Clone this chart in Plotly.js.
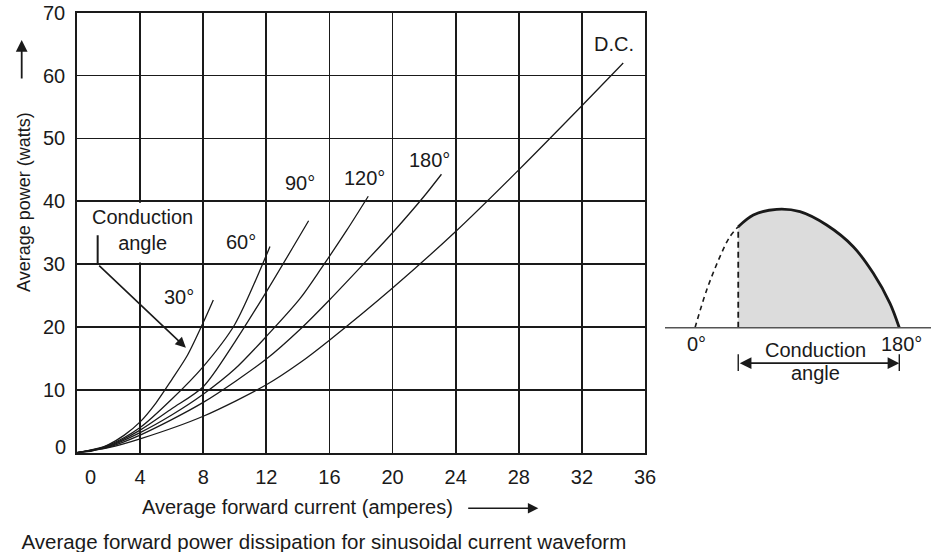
<!DOCTYPE html>
<html>
<head>
<meta charset="utf-8">
<script src="https://cdn.plot.ly/plotly-3.0.1.min.js"></script>
<style>html,body{margin:0;padding:0;background:#fff;}#chart{width:931px;height:552px;}</style>
</head>
<body>
<div id="chart"></div>
<script>
// ---- main chart data (average forward current A, average power W) ----
const curveLabels = ["30°", "60°", "90°", "120°", "180°", "D.C."];
const x30  = [0, 1, 2, 3, 4, 5, 6, 7, 8, 8.64];
const y30  = [0, 0.3, 1.3, 2.8, 4.9, 7.9, 11.6, 15.5, 20.7, 24.3];
const x60  = [0, 2, 4, 6, 8, 10, 12, 12.23];
const y60  = [0, 1.2, 4.0, 8.5, 13.7, 20.4, 31.4, 32.8];
const x90  = [0, 2, 4, 6, 8, 10, 12, 14.68];
const y90  = [0, 1.1, 3.6, 7.0, 10.5, 17.6, 25.6, 36.9];
const x120 = [0, 2, 4, 6, 8, 10, 12, 14.13, 15.5, 17.1, 18.46];
const y120 = [0, 1.0, 3.2, 6.0, 9.3, 13.3, 18.5, 24.5, 29.4, 35.4, 40.8];
const x180 = [0, 2, 4, 8, 12, 14.13, 16, 18, 20, 22, 23.1];
const y180 = [0, 0.9, 2.8, 8.0, 14.9, 19.6, 24.3, 29.6, 35.0, 40.8, 44.3];
const xDC  = [0, 2, 4, 8, 12, 14.13, 16, 20, 24, 28, 32, 34.62];
const yDC  = [0, 0.8, 2.2, 5.8, 10.8, 14.3, 17.9, 26.2, 35.2, 45.0, 55.2, 62.0];
const labelX = [6.46, 10.39, 14.13, 18.25, 22.37, 34.03];
const labelY = [24.7, 33.5, 42.9, 43.65, 46.6, 65.0];
const xTickVals = [4, 8, 12, 16, 20, 24, 28, 32, 36];
const yTickVals = [10, 20, 30, 40, 50, 60, 70];

// ---- inset (conduction angle sketch): degrees vs relative amplitude ----
const preDeg  = [0, 10.3, 22.0, 30.8, 38.1];
const preAmp  = [0, 0.318, 0.60, 0.77, 0.853];
const condDeg = [38.1, 51.4, 72.0, 92.5, 116.0, 139.5, 157.1, 171.8, 180];
const condAmp = [0.853, 0.952, 1.0, 0.98, 0.867, 0.684, 0.459, 0.206, 0];

const ink = '#1a1a1a';
const FONT = 'Liberation Sans, Arial, Helvetica, sans-serif';
const W = 931, H = 552;

const series = [[x30,y30],[x60,y60],[x90,y90],[x120,y120],[x180,y180],[xDC,yDC]];
const traces = series.map((s, i) => ({
  type: 'scatter', mode: 'lines', x: s[0], y: s[1], name: curveLabels[i],
  line: {color: ink, width: 1.3, shape: 'spline', smoothing: 0.8},
  hoverinfo: 'skip', xaxis: 'x', yaxis: 'y'
}));

traces.push({
  type: 'scatter', mode: 'lines', x: condDeg, y: condAmp, xaxis: 'x2', yaxis: 'y2',
  fill: 'tozeroy', fillcolor: '#dcdcdc',
  line: {color: ink, width: 2.8, shape: 'spline', smoothing: 0.9}, hoverinfo: 'skip'
});
traces.push({
  type: 'scatter', mode: 'lines', x: preDeg, y: preAmp, xaxis: 'x2', yaxis: 'y2',
  line: {color: ink, width: 1.6, dash: '5px,4px', shape: 'spline'}, hoverinfo: 'skip'
});
traces.push({
  type: 'scatter', mode: 'lines', x: [preDeg[preDeg.length-1], preDeg[preDeg.length-1]],
  y: [0, preAmp[preAmp.length-1]], xaxis: 'x2', yaxis: 'y2',
  line: {color: ink, width: 1.8, dash: '6px,4px'}, hoverinfo: 'skip'
});

const f20 = {family: FONT, size: 20, color: ink};
const C = {xanchor: 'center', yanchor: 'middle', showarrow: false};
const annotations = [];
curveLabels.forEach((t, i) => annotations.push(Object.assign({
  text: t, x: labelX[i], y: labelY[i], xref: 'x', yref: 'y', font: f20}, C)));
annotations.push(Object.assign({text: 'Conduction<br>angle', x: 4.16, y: 35.5, xref: 'x', yref: 'y',
  font: f20}, C));
// leader arrow
annotations.push({text: '', x: 6.9, y: 16.7, ax: 1.31, ay: 30, xref: 'x', yref: 'y',
  axref: 'x', ayref: 'y', showarrow: true, arrowhead: 2, arrowsize: 1.3, arrowwidth: 1.6, arrowcolor: ink});
// zero tick labels
annotations.push(Object.assign({text: '0', x: 0.87, y: 1 - 477.3 / H, xref: 'x', yref: 'paper',
  font: f20}, C));
annotations.push({text: '0', x: 68.3 / W, y: 0.86, xref: 'paper', yref: 'y', xanchor: 'right',
  showarrow: false, font: f20, yanchor: 'middle'});
// axis titles
annotations.push(Object.assign({text: 'Average forward current (amperes)', x: 297.7 / W, y: 1 - 506.7 / H,
  xref: 'paper', yref: 'paper', font: f20}, C));
annotations.push({text: '', x: 538.3 / W, y: 1 - 508.3 / H, ax: 466.7 / W, ay: 1 - 508.3 / H,
  xref: 'paper', yref: 'paper', axref: 'paper', ayref: 'paper', showarrow: true,
  arrowhead: 2, arrowsize: 1.3, arrowwidth: 1.6, arrowcolor: ink});
annotations.push(Object.assign({text: 'Average power (watts)', x: 23.3 / W, y: 1 - 201.7 / H, textangle: -90,
  xref: 'paper', yref: 'paper', font: {family: FONT, size: 18, color: ink}}, C));
annotations.push({text: '', x: 21.7 / W, y: 1 - 40 / H, ax: 21.7 / W, ay: 1 - 80 / H,
  xref: 'paper', yref: 'paper', axref: 'paper', ayref: 'paper', showarrow: true,
  arrowhead: 2, arrowsize: 1.3, arrowwidth: 1.8, arrowcolor: ink});
// inset labels
annotations.push(Object.assign({text: '0°', x: 0.9, y: -0.14, xref: 'x2', yref: 'y2', font: f20}, C));
annotations.push(Object.assign({text: '180°', x: 181.5, y: -0.14, xref: 'x2', yref: 'y2', font: f20}, C));
annotations.push(Object.assign({text: 'Conduction', x: 106.6, y: -0.188, xref: 'x2', yref: 'y2', font: f20}, C));
annotations.push(Object.assign({text: 'angle', x: 106.6, y: -0.385, xref: 'x2', yref: 'y2', font: f20}, C));
annotations.push({text: '', x: 180, y: -0.30, ax: 38.1, ay: -0.30, xref: 'x2', yref: 'y2',
  axref: 'x2', ayref: 'y2', showarrow: true, arrowside: 'end+start', arrowhead: 2,
  arrowsize: 1.3, arrowwidth: 1.8, arrowcolor: ink});

const shapes = [
  // white box behind "Conduction angle" text hides the vertical gridline
  {type: 'rect', xref: 'x', yref: 'y', x0: 3.4, x1: 4.6, y0: 30.25, y1: 39.75,
   fillcolor: '#ffffff', line: {width: 0}, layer: 'between'},
  // leader vertical segment
  {type: 'line', xref: 'x', yref: 'y', x0: 1.31, x1: 1.31, y0: 34.6, y1: 30,
   line: {color: ink, width: 2}},
  // inset baseline
  {type: 'line', xref: 'x2 domain', yref: 'y2', x0: 0, x1: 1, y0: 0, y1: 0,
   line: {color: '#555', width: 1.6}},
  // inset arrow end bars
  {type: 'line', xref: 'x2', yref: 'y2', x0: 38.1, x1: 38.1, y0: -0.225, y1: -0.365,
   line: {color: ink, width: 1.4}},
  {type: 'line', xref: 'x2', yref: 'y2', x0: 180, x1: 180, y0: -0.225, y1: -0.365,
   line: {color: ink, width: 1.4}}
];

const layout = {
  width: W, height: H,
  margin: {l: 0, r: 0, t: 0, b: 0},
  paper_bgcolor: '#fff', plot_bgcolor: '#fff',
  showlegend: false,
  font: {family: FONT, size: 20, color: ink},
  title: {text: 'Average forward power dissipation for sinusoidal current waveform',
    x: 323.9 / W, xanchor: 'center', xref: 'paper', y: 1 - 541.7 / H, yanchor: 'middle',
    yref: 'container', font: {family: FONT, size: 20.5, color: ink}},
  xaxis: {domain: [77 / W, 645 / W], range: [0, 36], tickvals: xTickVals,
    ticktext: xTickVals.map(String), showgrid: true, gridcolor: ink, gridwidth: 1.8,
    showline: true, mirror: true, linecolor: ink, linewidth: 1.8, zeroline: false,
    ticks: '', ticklabelstandoff: 5, tickfont: f20, fixedrange: true, anchor: 'y'},
  yaxis: {domain: [1 - 452.7 / H, 1 - 12.7 / H], range: [0, 70], tickvals: yTickVals,
    ticktext: yTickVals.map(String), showgrid: true, gridcolor: ink, gridwidth: 1.8,
    showline: true, mirror: true, linecolor: ink, linewidth: 1.8, zeroline: false,
    ticks: '', ticklabelstandoff: 6, tickfont: f20, fixedrange: true, anchor: 'x'},
  xaxis2: {domain: [665 / W, 1], range: [(665 - 695) / 1.135, (931 - 695) / 1.135],
    visible: false, anchor: 'y2', fixedrange: true},
  yaxis2: {domain: [1 - 400 / H, 1 - 180 / H], range: [(327.7 - 400) / 118.4, (327.7 - 180) / 118.4],
    visible: false, anchor: 'x2', fixedrange: true},
  annotations: annotations,
  shapes: shapes
};

Plotly.newPlot('chart', traces, layout, {displayModeBar: false, staticPlot: true});
</script>
</body>
</html>
